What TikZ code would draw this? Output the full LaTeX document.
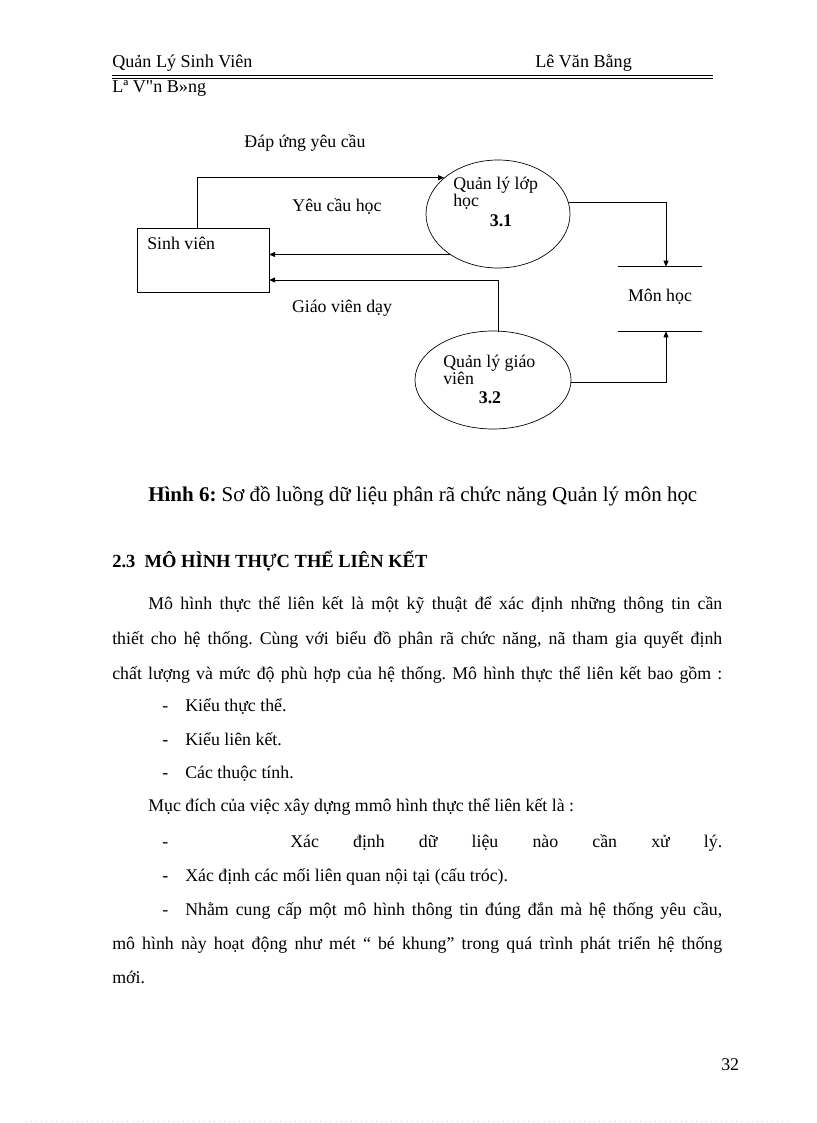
\documentclass[tikz,border=0pt]{standalone}
\usepackage{fontspec}
\setmainfont{Liberation Serif}
\newfontfamily\rawserif{Liberation Serif}[Ligatures=TeXOff]
\usetikzlibrary{arrows.meta,shapes.geometric}
\newlength\pxu
\setlength\pxu{0.7292pt}
\frenchspacing
\begin{document}
\begin{tikzpicture}[x=0.7292pt,y=-0.7292pt,
  txt/.style={inner sep=0pt,anchor=base west,font=\fontsize{13}{15}\selectfont},
  htxt/.style={inner sep=0pt,anchor=base west,font=\fontsize{13.2}{15}\selectfont},
  dtxt/.style={inner sep=0pt,anchor=base west,font=\fontsize{13}{15}\selectfont},
  ctxt/.style={inner sep=0pt,anchor=base,font=\fontsize{13}{15}\selectfont},
  proc/.style={draw,ellipse,line width=0.5pt,inner sep=0pt},
  entity/.style={draw,rectangle,line width=0.6pt,inner sep=0pt,minimum width=132\pxu,minimum height=64\pxu},
  flow/.style={draw,line width=0.6pt,-{Triangle[length=4.4pt,width=3.6pt]}},
  plain/.style={draw,line width=0.6pt}]
\useasboundingbox (0,0) rectangle (816,1123);
% header
\node[htxt] (h1) at (112,68) {Quản Lý Sinh Viên};
\node[htxt] (h2) at (535,68) {Lê Văn Bằng};
\node[htxt,font=\fontsize{13.2}{15}\rawserif] (h3) at (112,93) {Lª V"n B»ng};
\coordinate (hl1) at (112,75.5);
\coordinate (hr1) at (713,75.5);
\coordinate (hl2) at (112,78.8);
\coordinate (hr2) at (713,78.8);
\draw[line width=1.1pt] (hl1) -- (hr1);
\draw[line width=0.6pt] (hl2) -- (hr2);
% diagram
\node[entity] (sv) at (203,260) {};
\node[dtxt] (svl) at (147,250) {Sinh viên};
\node[proc,minimum width=144\pxu,minimum height=108\pxu] (p31) at (498,214) {};
\node[dtxt] (p31a) at (453,190) {Quản lý lớp};
\node[dtxt] (p31b) at (453,207) {học};
\node[ctxt,font=\fontsize{13}{15}\selectfont\bfseries] (p31c) at (501,227) {3.1};
\node[proc,minimum width=156\pxu,minimum height=98\pxu] (p32) at (493,380) {};
\node[dtxt] (p32a) at (443,367) {Quản lý giáo};
\node[dtxt] (p32b) at (443,384) {viên};
\node[ctxt,font=\fontsize{13}{15}\selectfont\bfseries] (p32c) at (490,403) {3.2};
\node[inner sep=0pt,minimum width=84\pxu,minimum height=64\pxu] (ms) at (660,299) {};
\node[ctxt] (msl) at (660,302) {Môn học};
\draw[plain] (ms.north west) -- (ms.north east);
\draw[plain] (ms.south west) -- (ms.south east);
\coordinate (upx) at (197,0);
\coordinate (dropx) at (666,0);
\coordinate (svin1) at (269,254);
\coordinate (svin2) at (269,280);
\coordinate (p32top) at (498,332);
\draw[flow] (sv.north -| upx) |- (p31.146);
\draw[flow] (p31.220) -- (p31.220 -| svin1);
\draw[flow] (p32top) |- (svin2);
\draw[flow] (p31.9) -| (ms.north -| dropx);
\draw[flow] (p32.-2) -| (ms.south -| dropx);
\node[ctxt] (l1) at (305,148) {Đáp ứng yêu cầu};
\node[ctxt] (l2) at (337,212) {Yêu cầu học};
\node[ctxt] (l3) at (342,313) {Giáo viên dạy};
% caption
\node[inner sep=0pt,anchor=base west,font=\fontsize{15.3}{17}\selectfont] (cap) at (148,501) {\textbf{Hình 6:} Sơ đồ luồng dữ liệu phân rã chức năng Quản lý môn học};
% heading
\node[txt,font=\fontsize{13.5}{15}\selectfont\bfseries] (sec) at (112,567) {2.3\ \ MÔ HÌNH THỰC THỂ LIÊN KẾT};
% body
\node[txt] (b1) at (148,609) {\makebox[574\pxu][s]{Mô hình thực thể liên kết là một kỹ thuật để xác định những thông tin cần}};
\node[txt] (b2) at (112,644) {\makebox[610\pxu][s]{thiết cho hệ thống. Cùng với biểu đồ phân rã chức năng, nã tham gia quyết định}};
\node[txt] (b3) at (112,679) {\makebox[610\pxu][s]{chất lượng và mức độ phù hợp của hệ thống. Mô hình thực thể liên kết bao gồm :}};
\node[txt] (d1) at (162,711) {-};
\node[txt] (b4) at (185,711) {Kiểu thực thể.};
\node[txt] (d2) at (162,745) {-};
\node[txt] (b5) at (185,745) {Kiểu liên kết.};
\node[txt] (d3) at (162,778) {-};
\node[txt] (b6) at (185,778) {Các thuộc tính.};
\node[txt] (b7) at (148,811) {Mục đích của việc xây dựng mmô hình thực thể liên kết là :};
\node[txt] (d4) at (162,847) {-};
\node[txt] (b8) at (290,847) {\makebox[432\pxu][s]{Xác định dữ liệu nào cần xử lý.}};
\node[txt] (d5) at (162,881) {-};
\node[txt] (b9) at (185,881) {Xác định các mối liên quan nội tại (cấu tróc).};
\node[txt] (d6) at (162,915) {-};
\node[txt] (b10) at (185,915) {\makebox[537\pxu][s]{Nhằm cung cấp một mô hình thông tin đúng đắn mà hệ thống yêu cầu,}};
\node[txt] (b11) at (112,949) {\makebox[610\pxu][s]{mô hình này hoạt động như mét “ bé khung” trong quá trình phát triển hệ thống}};
\node[txt] (b12) at (112,983) {mới.};
% page number
\node[txt] (pg) at (721,1070) {32};
\coordinate (dl) at (26,1121);
\coordinate (dr) at (791,1121);
\draw[gray!40,line width=0.6pt,dash pattern=on 0.7pt off 3pt] (dl) -- (dr);
\end{tikzpicture}
\end{document}
